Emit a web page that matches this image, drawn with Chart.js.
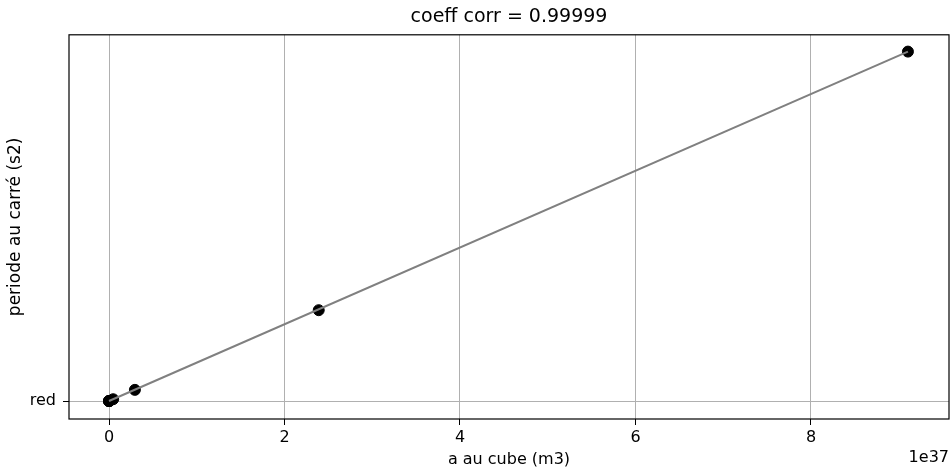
<!DOCTYPE html>
<html lang="fr">
  <head>
    <meta charset="UTF-8" />
    <title>coeff corr</title>
    <script src="https://cdn.jsdelivr.net/npm/chart.js@4.4.1/dist/chart.umd.min.js"></script>
    <style>
      html, body { margin: 0; padding: 0; background: #fff; }
      #wrap { width: 952px; height: 469px; }
    </style>
  </head>
  <body>
    <div id="wrap"><canvas id="myChart" width="952" height="469"></canvas></div>
    <script>
      // planets : a^3 (m3) and T^2 (s2)
      const planets = ["Mercure", "Vénus", "Terre", "Mars", "Jupiter", "Saturne", "Uranus", "Neptune"];
      const aCube = [1.94e32, 1.27e33, 3.35e33, 1.18e34, 4.72e35, 2.95e36, 2.39e37, 9.105e37];
      const periodSq = [5.78e13, 3.77e14, 9.96e14, 3.52e15, 1.40e17, 8.64e17, 7.03e18, 2.704e19];
      // regression line end points
      const fitX = [1.94e32, 9.105e37];
      const fitY = [5.6e13, 2.704e19];
      const xTicks = [0, 2e37, 4e37, 6e37, 8e37];
      const yTickLabel = "red";

      const font = "'DejaVu Sans', sans-serif";
      Chart.defaults.font.family = font;
      Chart.defaults.color = "#000";

      const frame = {
        id: "frame",
        afterDraw(chart) {
          const { ctx, chartArea: a } = chart;
          ctx.save();
          ctx.strokeStyle = "#000";
          ctx.lineWidth = 1.2;
          ctx.strokeRect(a.left, a.top, a.right - a.left, a.bottom - a.top);
          ctx.font = "16px " + font;
          ctx.fillStyle = "#000";
          ctx.textAlign = "right";
          ctx.textBaseline = "middle";
          ctx.fillText("1e37", a.right, 458);
          ctx.restore();
        },
      };

      new Chart(document.getElementById("myChart"), {
        type: "scatter",
        data: {
          datasets: [
            {
              label: "fit",
              type: "line",
              data: fitX.map((x, i) => ({ x: x, y: fitY[i] })),
              borderColor: "#808080",
              borderWidth: 2,
              pointRadius: 0,
              order: 0,
            },
            {
              label: "planètes",
              data: aCube.map((x, i) => ({ x: x, y: periodSq[i] })),
              backgroundColor: "#000",
              borderColor: "#000",
              pointRadius: 5.5,
              order: 1,
            },
          ],
        },
        options: {
          responsive: false,
          animation: false,
          layout: { autoPadding: false, padding: { right: 3 } },
          plugins: {
            legend: { display: false },
            tooltip: { enabled: false },
            title: {
              display: true,
              fullSize: false,
              text: "coeff corr = 0.99999",
              font: { size: 19, weight: "normal" },
              color: "#000",
              padding: { top: 6, bottom: 6 },
            },
          },
          scales: {
            x: {
              type: "linear",
              min: -0.456e37,
              max: 9.573e37,
              afterBuildTicks(s) { s.ticks = xTicks.map(v => ({ value: v })); },
              afterFit(s) {
                s.height = 50;
                s.paddingLeft = 0;
                s.paddingRight = 0;
              },
              ticks: {
                callback: v => String(Math.round(v / 1e37)),
                font: { size: 16 },
                padding: 3,
                maxRotation: 0,
              },
              grid: { color: "#b0b0b0", lineWidth: 1, tickColor: "#000", tickLength: 6 },
              border: { display: false },
              title: {
                display: true,
                text: "a au cube (m3)",
                font: { size: 16 },
                padding: { top: 2, bottom: 0 },
              },
            },
            y: {
              type: "linear",
              min: -1.39e18,
              max: 2.834e19,
              afterBuildTicks(s) { s.ticks = [{ value: 0 }]; },
              afterFit(s) {
                s.width = 69;
                s.paddingTop = 0;
                s.paddingBottom = 0;
              },
              ticks: {
                callback: () => yTickLabel,
                font: { size: 16 },
                padding: 7,
              },
              grid: { color: "#b0b0b0", lineWidth: 1, tickColor: "#000", tickLength: 6 },
              border: { display: false },
              title: {
                display: true,
                text: "periode au carré (s2)",
                font: { size: 17 },
                padding: { top: 5, bottom: 4 },
              },
            },
          },
        },
        plugins: [frame],
      });
    </script>
  </body>
</html>
